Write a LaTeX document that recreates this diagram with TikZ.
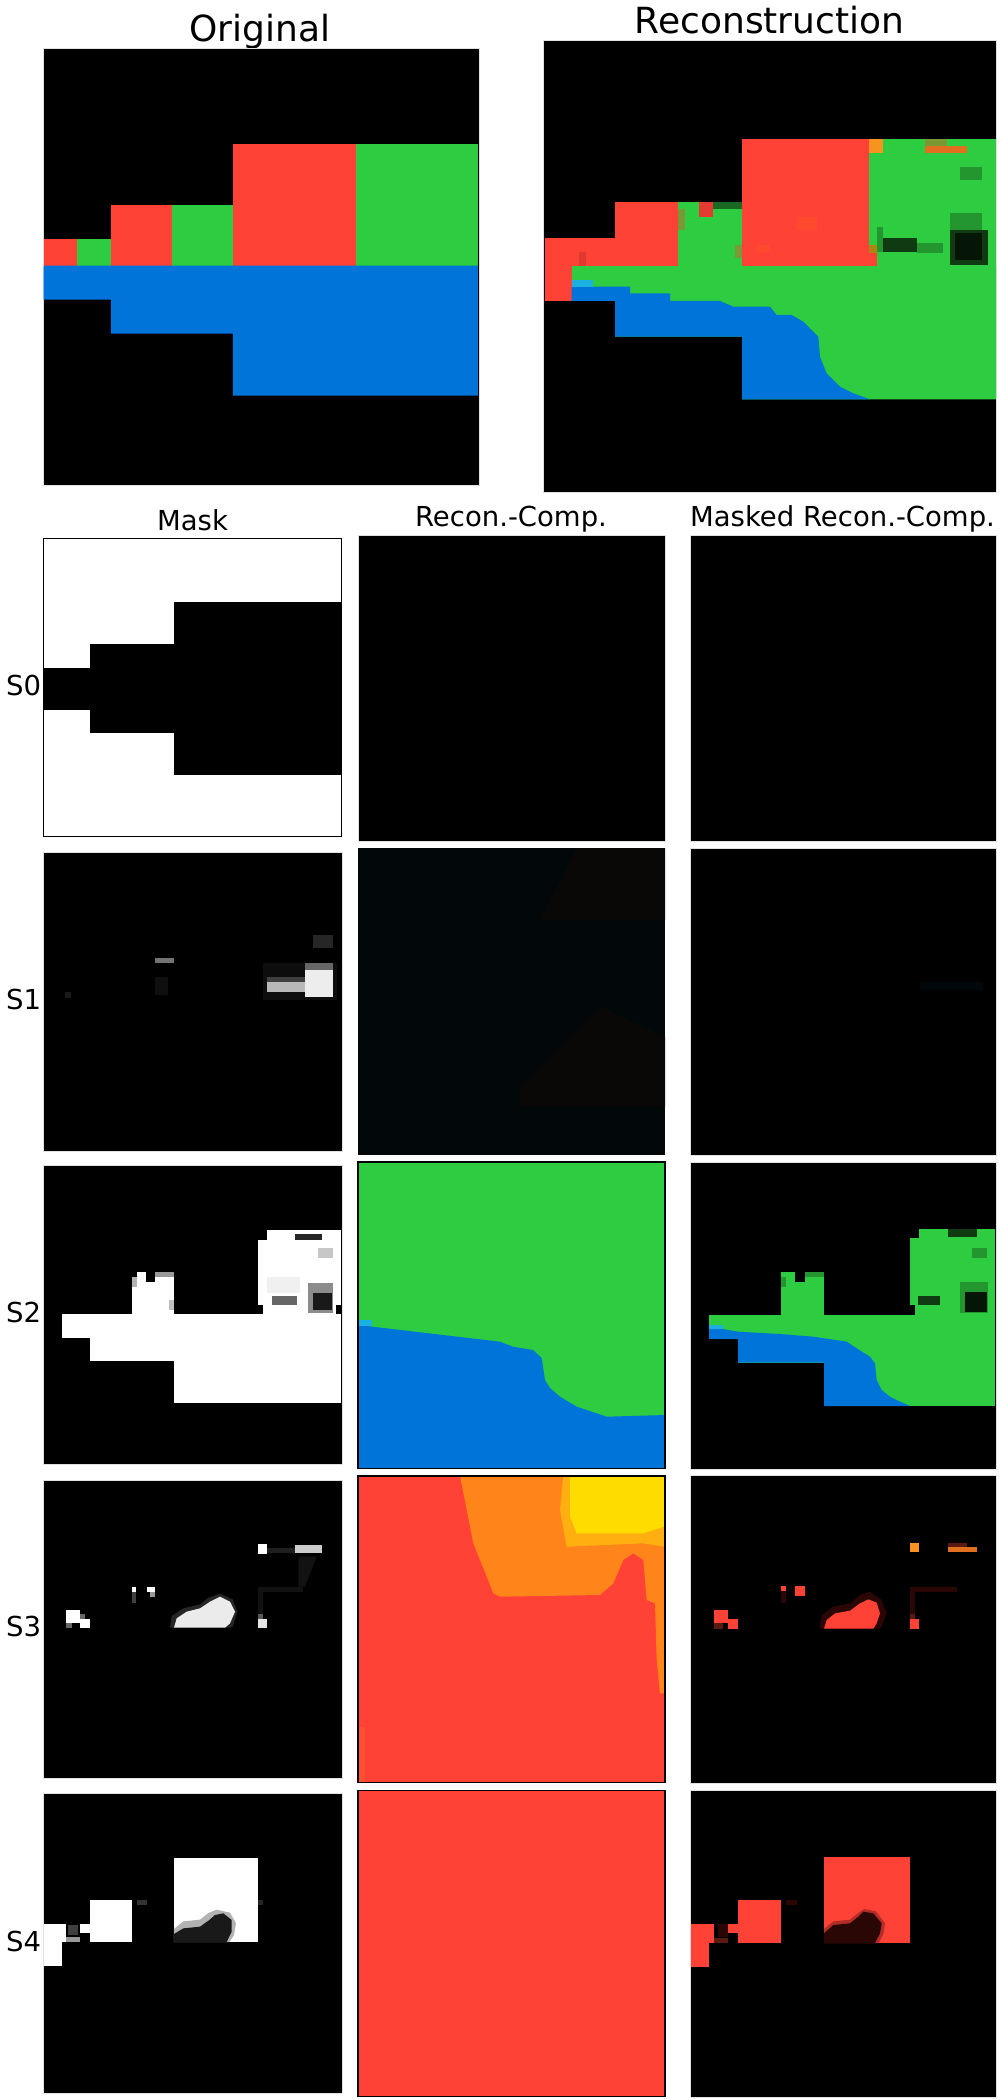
\documentclass[tikz,border=0pt]{standalone}
\usepackage{fontspec}
\setmainfont{DejaVu Sans}
\definecolor{cred}{RGB}{255,65,54}
\definecolor{cgreen}{RGB}{46,204,64}
\definecolor{cblue}{RGB}{0,116,217}
\definecolor{corange}{RGB}{255,133,27}
\definecolor{cyellow}{RGB}{255,220,0}
\definecolor{ccyan}{RGB}{26,176,224}
\definecolor{dkgreen}{RGB}{15,58,18}
\definecolor{mdgreen}{RGB}{36,150,48}
\definecolor{vdkgreen}{RGB}{5,22,7}
\definecolor{dkred}{RGB}{90,26,16}
\definecolor{vdkred}{RGB}{42,6,4}
\definecolor{orange2}{RGB}{247,147,30}
\definecolor{orange3}{RGB}{224,112,32}
\definecolor{amber}{RGB}{255,176,16}
\definecolor{nearblack}{RGB}{2,7,9}
\definecolor{brownblack}{RGB}{9,8,7}
\begin{document}
\begin{tikzpicture}[x=1pt,y=-1pt,
  title/.style={font=\fontsize{36}{40}\selectfont, anchor=base, inner sep=0},
  head/.style={font=\fontsize{27.5}{32}\selectfont, anchor=base, inner sep=0},
  rowlab/.style={font=\fontsize{27.5}{32}\selectfont, anchor=base west, inner sep=0},
  blackpanel/.style={fill=black, draw=black!12, line width=0.8},
  framed/.style={draw=black, line width=1.2},
  z/.style={shift={#1}, scale=1/3}]
\useasboundingbox[fill=white] (0,0) rectangle (1000,2100);

% ---------- titles ----------
\node[title] (torig) at (260,41.7) {Original};
\node[title] (trec) at (769.5,33.3) {Reconstruction};
\node[head] (hmask) at (192.5,530) {Mask};
\node[head] (hrc) at (511,526.7) {Recon.-Comp.};
\node[head] (hmrc) at (842.5,526.7) {Masked Recon.-Comp.};
\node[rowlab] (s0) at (6,695) {S0};
\node[rowlab] (s1) at (6,1009.3) {S1};
\node[rowlab] (s2) at (6,1322.7) {S2};
\node[rowlab] (s3) at (6,1636.7) {S3};
\node[rowlab] (s4) at (6,1951) {S4};

% ---------- Original ----------
\begin{scope}[z={(0,0)}]
  \fill[blackpanel] (129,146) rectangle (1437,1455);
  \fill[cred] (131,717) rectangle (231,797);
  \fill[cgreen] (231,717) rectangle (333,797);
  \fill[cred] (333,615) rectangle (516,797);
  \fill[cgreen] (516,615) rectangle (699,797);
  \fill[cred] (699,432) rectangle (1068,797);
  \fill[cgreen] (1068,432) rectangle (1434,797);
  \fill[cblue] (131,797) -- (1434,797) -- (1434,1187) -- (699,1187) -- (699,1001)
     -- (333,1001) -- (333,899) -- (131,899) -- cycle;
\end{scope}

% ---------- Reconstruction ----------
\begin{scope}[z={(500,0)}]
  \fill[blackpanel] (131,122) rectangle (1490,1478);
  \fill[cgreen] (215,797) -- (1488,797) -- (1488,1198) -- (726,1198) -- (726,1010)
     -- (345,1010) -- (345,903) -- (215,903) -- cycle;
  \fill[cgreen] (533,605) rectangle (726,797);
  \fill[cgreen] (1108,417) rectangle (1488,797);
  \fill[cred] (726,417) rectangle (1108,797);
  \fill[cred] (1108,757) rectangle (1130,797);
  \fill[cred] (345,605) rectangle (533,797);
  \fill[cred] (135,714) rectangle (345,797);
  \fill[cred] (135,797) rectangle (215,903);
  \fill[cred!88!black] (236,757) rectangle (258,797);
  \fill[cred!85!orange] (770,735) rectangle (810,757);
  \fill[cred!85!orange] (890,650) rectangle (950,690);
  \fill[cred!90!black] (598,605) rectangle (640,650);
  \fill[mdgreen!70!black] (640,605) rectangle (726,627);
  \fill[olive!50!cgreen] (533,627) rectangle (555,690);
  \fill[olive!50!cgreen] (705,735) rectangle (726,775);
  \fill[cblue] (215,860) -- (390,860) -- (390,880) -- (510,880) -- (510,903)
     -- (660,903) -- (700,920) -- (810,920) -- (830,945) -- (875,945) -- (910,965)
     -- (935,990) -- (955,1010) -- (960,1070) -- (980,1120) -- (1020,1160)
     -- (1060,1180) -- (1110,1198) -- (726,1198) -- (726,1010) -- (345,1010)
     -- (345,903) -- (215,903) -- cycle;
  \fill[ccyan] (215,840) rectangle (280,860);
  \fill[orange2] (1108,417) rectangle (1150,460);
  \fill[olive!50!cgreen] (1275,417) rectangle (1340,438);
  \fill[orange3] (1275,438) rectangle (1400,460);
  \fill[mdgreen] (1380,500) rectangle (1445,540);
  \fill[mdgreen] (1130,680) rectangle (1150,757);
  \fill[mdgreen] (1350,640) rectangle (1445,700);
  \fill[dkgreen] (1150,714) rectangle (1250,757);
  \fill[mdgreen] (1250,730) rectangle (1330,760);
  \fill[dkgreen] (1350,690) rectangle (1465,795);
  \fill[vdkgreen] (1365,700) rectangle (1445,780);
  \fill[olive!70!cred] (1108,735) rectangle (1130,760);
\end{scope}

% ================= Row S0 =================
\fill[white] (43,538.3) rectangle (341.7,836.7);
\begin{scope}[z={(0,500)}]
  \fill[black] (129,504) rectangle (270,630);
  \fill[black] (270,432) rectangle (522,699);
  \fill[black] (522,306) rectangle (1025,825);
\end{scope}
\draw[draw=black, line width=1] (43,538.3) rectangle (341.7,836.7);
\fill[blackpanel] (358,535) rectangle (665,841);
\fill[blackpanel] (690,535) rectangle (996,841);

% ================= Row S1 =================
\fill[blackpanel] (43,852) rectangle (342,1151);
\begin{scope}[z={(0,820)}]
  \fill[black!95] (790,430) rectangle (1010,540);
  \fill[white!25!black] (800,470) rectangle (915,485);
  \fill[white!72!black] (800,485) rectangle (915,515);
  \fill[white!40!black] (915,430) rectangle (1000,450);
  \fill[white!93!black] (915,450) rectangle (1000,530);
  \fill[black!85] (940,345) rectangle (1000,385);
  \fill[white!45!black] (465,413) rectangle (521,428);
  \fill[black!94] (465,470) rectangle (505,525);
  \fill[black!90] (195,515) rectangle (212,535);
\end{scope}
\fill[nearblack] (358,848) rectangle (665,1154.7);
\begin{scope}[z={(500,820)}]
  \fill[brownblack] (230,85) -- (495,85) -- (495,300) -- (120,300) -- cycle;
  \fill[brownblack] (300,560) -- (495,650) -- (495,860) -- (60,860) -- (60,800) -- cycle;
\end{scope}
\fill[blackpanel] (690,848) rectangle (996,1155);
\begin{scope}[z={(500,820)}]
  \fill[nearblack] (1260,485) rectangle (1450,510);
\end{scope}

% ================= Row S2 =================
\fill[blackpanel] (43,1165.7) rectangle (342,1464.7);
\begin{scope}[z={(0,1150)}]
  \fill[white] (186,492) rectangle (1022,563);
  \fill[white] (270,563) rectangle (1022,632);
  \fill[white] (522,632) rectangle (1022,758);
  \fill[white] (397,380) rectangle (522,492);
  \fill[white] (410,366) rectangle (522,380);
  \fill[black] (437,366) rectangle (465,395);
  \fill[white!60!black] (465,366) rectangle (522,380);
  \fill[white!70!black] (397,380) rectangle (410,410);
  \fill[white!75!black] (508,450) rectangle (522,480);
  \fill[white] (775,270) rectangle (1022,492);
  \fill[white] (800,240) rectangle (1022,270);
  \fill[black!85] (885,252) rectangle (965,270);
  \fill[white!78!black] (955,295) rectangle (1000,325);
  \fill[white!94!black] (800,380) rectangle (900,430);
  \fill[white!40!black] (815,437) rectangle (890,465);
  \fill[white!55!black] (925,400) rectangle (1000,490);
  \fill[black!90] (940,430) rectangle (995,480);
  \fill[black] (775,465) rectangle (790,492);
  \fill[black] (1008,465) rectangle (1022,492);
\end{scope}
\fill[cgreen] (358,1162) rectangle (665,1468.3);
\fill[cblue] (358,1325) -- (500,1341.7) -- (513,1346.7) -- (533,1350) -- (541.7,1358)
   -- (545,1380) -- (550,1388) -- (560,1396.7) -- (576.7,1406.7) -- (596.7,1413.3)
   -- (606.7,1416.7) -- (665,1415) -- (665,1468.3) -- (358,1468.3) -- cycle;
\fill[ccyan] (358,1320) rectangle (372,1326);
\draw[framed] (358,1162) rectangle (665,1468.3);
\fill[blackpanel] (690,1162) rectangle (996,1469);
\begin{scope}[z={(500,1150)}]
  \fill[cgreen] (627,495) rectangle (1485,567);
  \fill[cgreen] (714,567) rectangle (1485,638);
  \fill[cgreen] (972,638) rectangle (1485,768);
  \fill[cblue] (627,530) -- (714,545) -- (840,552) -- (940,560) -- (1040,575)
     -- (1070,595) -- (1110,620) -- (1125,640) -- (1130,690) -- (1145,720)
     -- (1170,740) -- (1200,755) -- (1230,768) -- (972,768) -- (972,638)
     -- (714,638) -- (714,567) -- (627,567) -- cycle;
  \fill[ccyan] (627,525) rectangle (670,537);
  \fill[cgreen] (843,366) rectangle (972,495);
  \fill[black] (885,366) rectangle (915,395);
  \fill[mdgreen] (915,366) rectangle (972,380);
  \fill[mdgreen] (843,380) rectangle (858,410);
  \fill[cgreen] (1230,265) rectangle (1485,495);
  \fill[cgreen] (1257,237) rectangle (1485,265);
  \fill[dkgreen] (1345,237) rectangle (1430,262);
  \fill[mdgreen] (1415,295) rectangle (1460,325);
  \fill[dkgreen] (1255,437) rectangle (1320,465);
  \fill[mdgreen] (1380,395) rectangle (1465,490);
  \fill[vdkgreen] (1395,425) rectangle (1460,485);
  \fill[black] (1230,465) rectangle (1245,495);
\end{scope}

% ================= Row S3 =================
\fill[blackpanel] (43,1480) rectangle (342,1778.7);
\begin{scope}[z={(0,1460)}]
  \fill[black!93] (775,380) rectangle (910,395);
  \fill[black!93] (775,395) rectangle (790,462);
  \fill[black!93] (895,290) -- (950,290) -- (915,380) -- (895,380) -- cycle;
  \fill[white] (198,450) rectangle (240,490);
  \fill[white] (240,478) rectangle (270,503);
  \fill[white!40!black] (198,490) rectangle (215,503);
  \fill[white!40!black] (240,462) rectangle (255,478);
  \fill[white] (397,380) rectangle (407,395);
  \fill[white!25!black] (397,395) rectangle (407,430);
  \fill[white] (440,380) rectangle (465,395);
  \fill[white!60!black] (450,395) rectangle (465,410);
  \fill[white!15!black] (510,503) -- (515,468) -- (550,445) -- (600,433) -- (625,413)
     -- (660,401) -- (698,418) -- (712,455) -- (698,500) -- (690,503) -- cycle;
  \fill[white!92!black] (522,503) -- (530,475) -- (560,455) -- (600,445) -- (630,425)
     -- (660,410) -- (690,425) -- (705,455) -- (690,490) -- (675,503) -- cycle;
  \fill[white] (775,253) rectangle (800,282);
  \fill[black!88] (800,265) rectangle (885,280);
  \fill[white!80!black] (885,255) rectangle (965,280);
  \fill[white!90!black] (775,478) rectangle (800,503);
  \fill[white!35!black] (775,462) rectangle (790,478);
\end{scope}
\fill[cred] (358,1476) rectangle (665,1782.7);
\begin{scope}[z={(500,1460)}]
  \fill[corange] (-120,48) -- (-80,250) -- (-20,400) -- (0,410) -- (300,405)
     -- (340,370) -- (370,300) -- (400,280) -- (430,300) -- (440,420) -- (465,430)
     -- (470,600) -- (480,700) -- (492,700) -- (492,48) -- cycle;
  \fill[amber] (190,48) -- (492,48) -- (492,260) -- (430,250) -- (200,260) -- (180,150) -- cycle;
  \fill[cyellow] (210,48) -- (492,48) -- (492,200) -- (430,220) -- (230,220) -- (210,170) -- cycle;
  \fill[cred!80!corange] (-430,800) rectangle (-405,968);
\end{scope}
\draw[framed] (358,1476) rectangle (665,1782.7);
\fill[blackpanel] (690,1475.7) rectangle (996,1783);
\begin{scope}[z={(500,1460)}]
  \fill[vdkred] (1230,380) rectangle (1370,395);
  \fill[vdkred] (1230,395) rectangle (1245,462);
  \fill[cred] (642,450) rectangle (684,490);
  \fill[cred] (684,478) rectangle (714,506);
  \fill[dkred] (642,490) rectangle (670,506);
  \fill[cred] (843,378) rectangle (858,392);
  \fill[vdkred] (843,392) rectangle (858,430);
  \fill[cred] (885,378) rectangle (915,408);
  \fill[vdkred] (958,506) -- (965,465) -- (1000,440) -- (1050,430) -- (1080,405)
     -- (1110,395) -- (1145,420) -- (1160,460) -- (1145,500) -- (1140,506) -- cycle;
  \fill[cred] (972,506) -- (980,480) -- (1005,460) -- (1050,452) -- (1080,430)
     -- (1105,418) -- (1130,428) -- (1140,460) -- (1130,490) -- (1120,506) -- cycle;
  \fill[orange2] (1230,250) rectangle (1257,275);
  \fill[dkred] (1345,248) rectangle (1400,262);
  \fill[orange3] (1345,262) rectangle (1430,275);
  \fill[cred] (1230,478) rectangle (1257,506);
  \fill[dkred] (1230,462) rectangle (1245,478);
\end{scope}

% ================= Row S4 =================
\fill[blackpanel] (43,1793.7) rectangle (342,2093);
\begin{scope}[z={(0,1780)}]
  \fill[white] (132,432) rectangle (198,487);
  \fill[white] (132,487) rectangle (186,557);
  \fill[white] (240,432) rectangle (270,460);
  \fill[white!60!black] (198,470) rectangle (240,487);
  \fill[black!75] (205,435) rectangle (235,465);
  \fill[white] (270,360) rectangle (396,486);
  \fill[white] (522,234) rectangle (774,486);
  \fill[white!70!black] (522,486) -- (522,447) -- (550,424) -- (600,419) -- (625,399)
     -- (650,389) -- (690,398) -- (708,430) -- (702,465) -- (688,486) -- cycle;
  \fill[black!90] (522,486) -- (522,462) -- (550,445) -- (600,440) -- (628,420)
     -- (645,405) -- (670,400) -- (695,420) -- (695,455) -- (680,486) -- cycle;
  \fill[black!80] (410,360) rectangle (440,375);
  \fill[black!85] (775,360) rectangle (790,375);
\end{scope}
\fill[cred] (358,1790.3) rectangle (665,2096.3);
\draw[framed] (358,1790.3) rectangle (665,2096.3);
\fill[blackpanel] (690,1790) rectangle (996,2097);
\begin{scope}[z={(500,1780)}]
  \fill[cred] (573,432) rectangle (642,489);
  \fill[cred] (573,489) rectangle (627,560);
  \fill[cred] (684,432) rectangle (714,458);
  \fill[dkred] (642,475) rectangle (684,489);
  \fill[vdkred] (655,432) rectangle (684,470);
  \fill[cred] (714,360) rectangle (843,489);
  \fill[cred] (972,231) rectangle (1230,489);
  \fill[cred!70!black] (972,489) -- (972,447) -- (1000,424) -- (1050,419) -- (1075,399)
     -- (1093,387) -- (1128,394) -- (1155,430) -- (1150,463) -- (1136,489) -- cycle;
  \fill[vdkred] (972,489) -- (972,460) -- (1000,435) -- (1050,430) -- (1075,410)
     -- (1090,395) -- (1120,400) -- (1145,430) -- (1140,460) -- (1125,489) -- cycle;
  \fill[vdkred] (858,360) rectangle (890,375);
\end{scope}

\end{tikzpicture}
\end{document}
